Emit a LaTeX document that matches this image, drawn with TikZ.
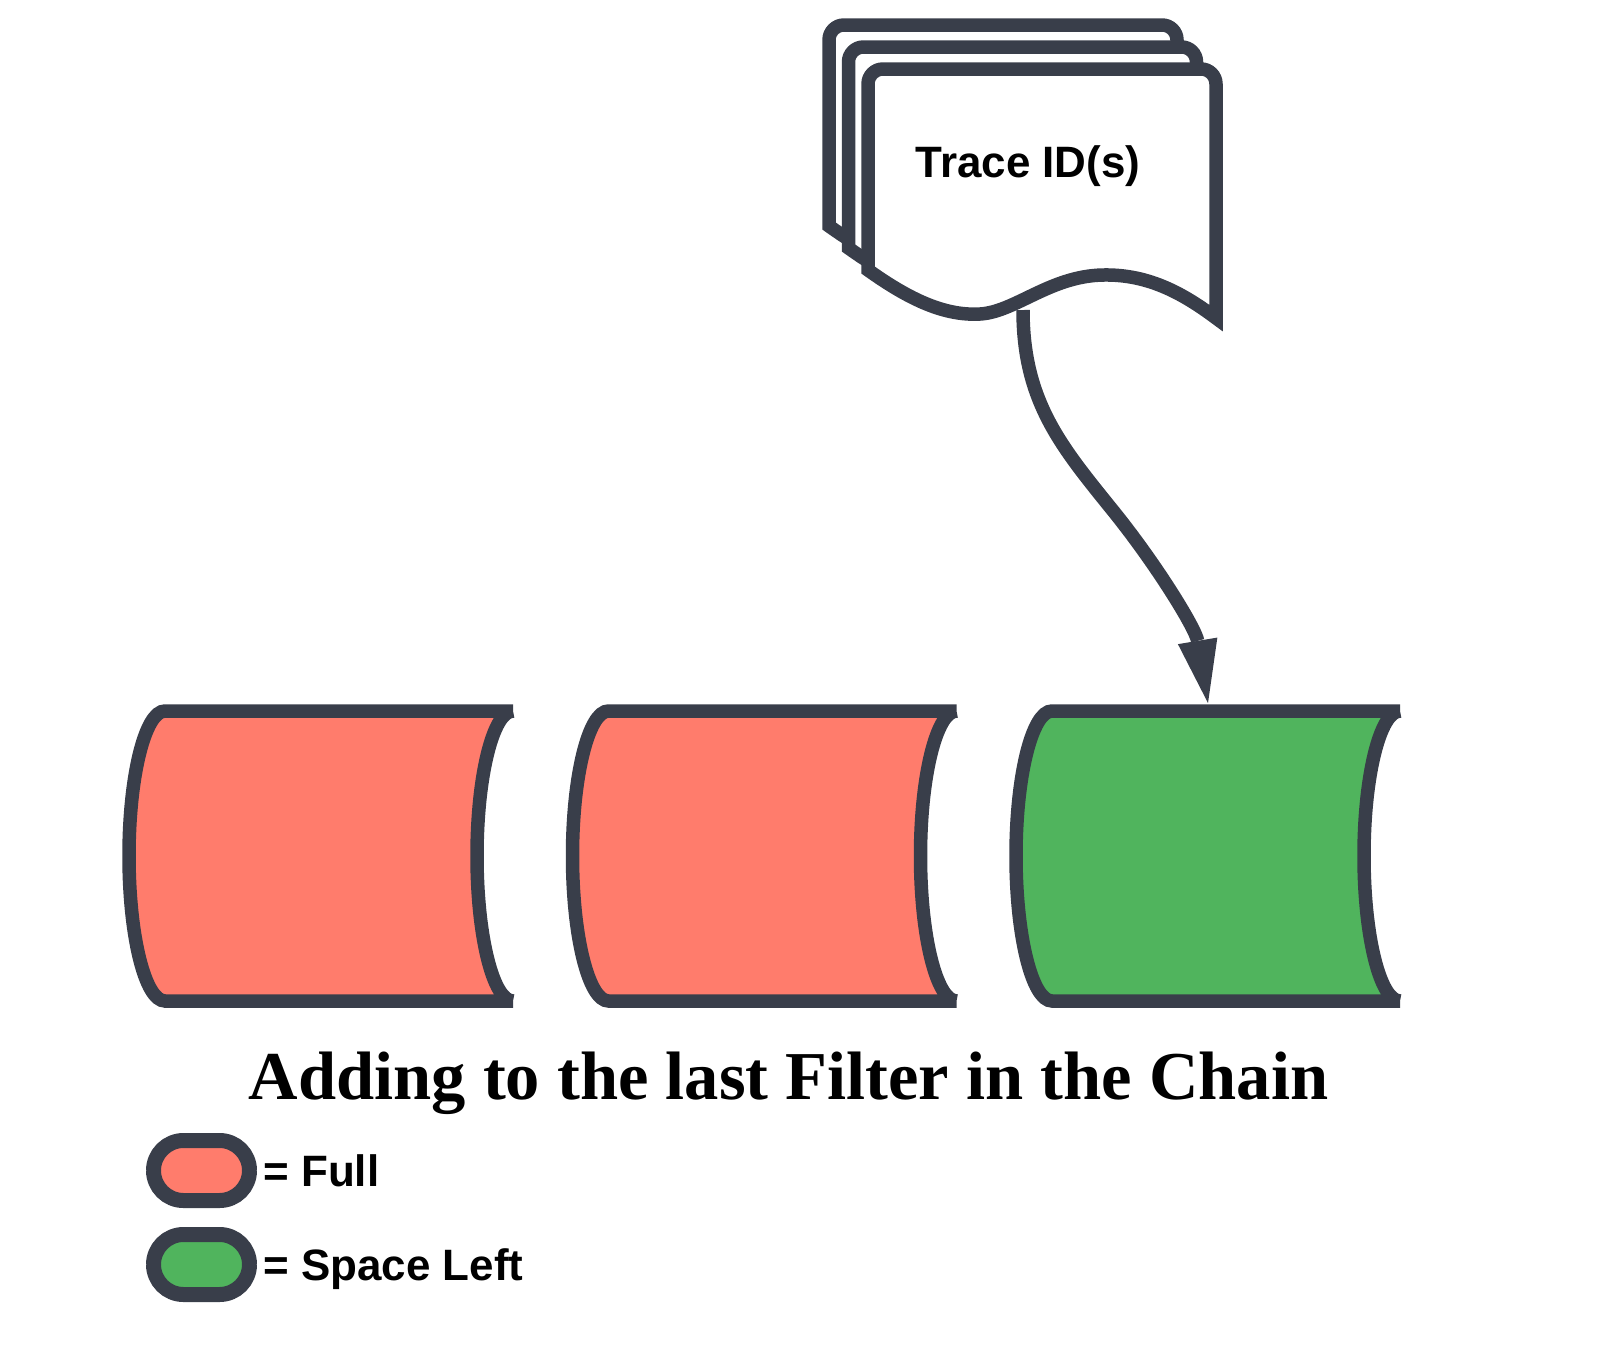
\documentclass[tikz,border=0pt]{standalone}
\usepackage{fontspec}
\setmainfont{Liberation Serif}
\setsansfont{Liberation Sans}
\usepackage{tikz}
\usetikzlibrary{arrows.meta,positioning}
\definecolor{pslate}{HTML}{393E4A}
\definecolor{pfull}{HTML}{FF7C6C}
\definecolor{pleft}{HTML}{50B45D}
\tikzset{
  % Thick slate outline shared by every drawn shape.
  filter/.style = {draw=pslate, line width=0.27cm},
  sheet/.style  = {draw=pslate, fill=white, line width=0.27cm, miter limit=20},
  flow/.style   = {-{Triangle[length=1.26cm, width=0.8cm, line width=0pt]}, draw=pslate, line width=0.27cm},
  key/.style    = {rectangle, rounded corners=0.6cm, draw=pslate, line width=0.3cm,
                   minimum width=1.92cm, minimum height=1.2cm, inner sep=0pt},
  lbl/.style    = {font=\sffamily\bfseries\fontsize{25}{29}\selectfont, inner sep=0pt,
                   text height=0.63cm, text depth=0pt},
  ttl/.style    = {font=\rmfamily\bfseries\fontsize{39}{44}\selectfont, inner sep=0pt},
}

\begin{document}
\begin{tikzpicture}[x=1cm,y=1cm]
\useasboundingbox (0,0) rectangle (32,-26.92);
% stacked trace sheets
\foreach \s in {2,1,0} {
  \begin{scope}[shift={(-0.39*\s,0.44*\s)}]
    \draw[sheet] (24.32,-6.36)
      .. controls (23.70,-5.90) and (23.00,-5.48) .. (22.06,-5.50)
      .. controls (21.00,-5.52) and (20.30,-6.24) .. (19.60,-6.28)
      .. controls (18.90,-6.32) and (18.20,-6.00) .. (17.36,-5.40)
      -- (17.36,-1.68) arc[start angle=180, end angle=90, radius=0.3]
      -- (24.02,-1.38) arc[start angle=90, end angle=0, radius=0.3] -- cycle;
  \end{scope}
}
\node[lbl, anchor=base] (traceids) at (20.56,-3.54) {Trace ID(s)};
\coordinate (docbottom) at (20.46,-6.20);
% filter chain
\foreach \i/\c in {1/pfull,2/pfull,3/pleft} {
  \pgfmathsetmacro{\cx}{3.30+(\i-1)*8.87}
  \fill[\c] (\cx+6.96,-14.22) -- (\cx,-14.22) arc[start angle=90, end angle=270, x radius=0.72, y radius=2.9]
    -- (\cx+6.96,-20.02) arc[start angle=270, end angle=90, x radius=0.72, y radius=2.9] -- cycle;
  \draw[filter] (\cx+6.96,-14.22) -- (\cx,-14.22) arc[start angle=90, end angle=270, x radius=0.72, y radius=2.9]
    -- (\cx+6.96,-20.02) (\cx+6.96,-20.02) arc[start angle=270, end angle=90, x radius=0.72, y radius=2.9];
  \coordinate (filter\i) at (\cx+3.12,-14.06);
}
% insert arrow
\draw[flow] (docbottom) .. controls +(0,-1.8) and +(-1.0,1.24) .. (22.20,-10.14)
  .. controls +(0.9,-1.1) and +(-0.25,1.5) .. (filter3);
\node[ttl, anchor=base] (caption) at (15.77,-21.98) {Adding to the last Filter in the Chain};
% legend
\node[key, fill=pfull] (keyfull) at (4.03,-23.41) {};
\node[key, fill=pleft] (keyleft) at (4.03,-25.29) {};
\node[lbl, right=0.12cm of keyfull] (fulltxt) {= Full};
\node[lbl, right=0.12cm of keyleft] (lefttxt) {= Space Left};
\end{tikzpicture}
\end{document}
